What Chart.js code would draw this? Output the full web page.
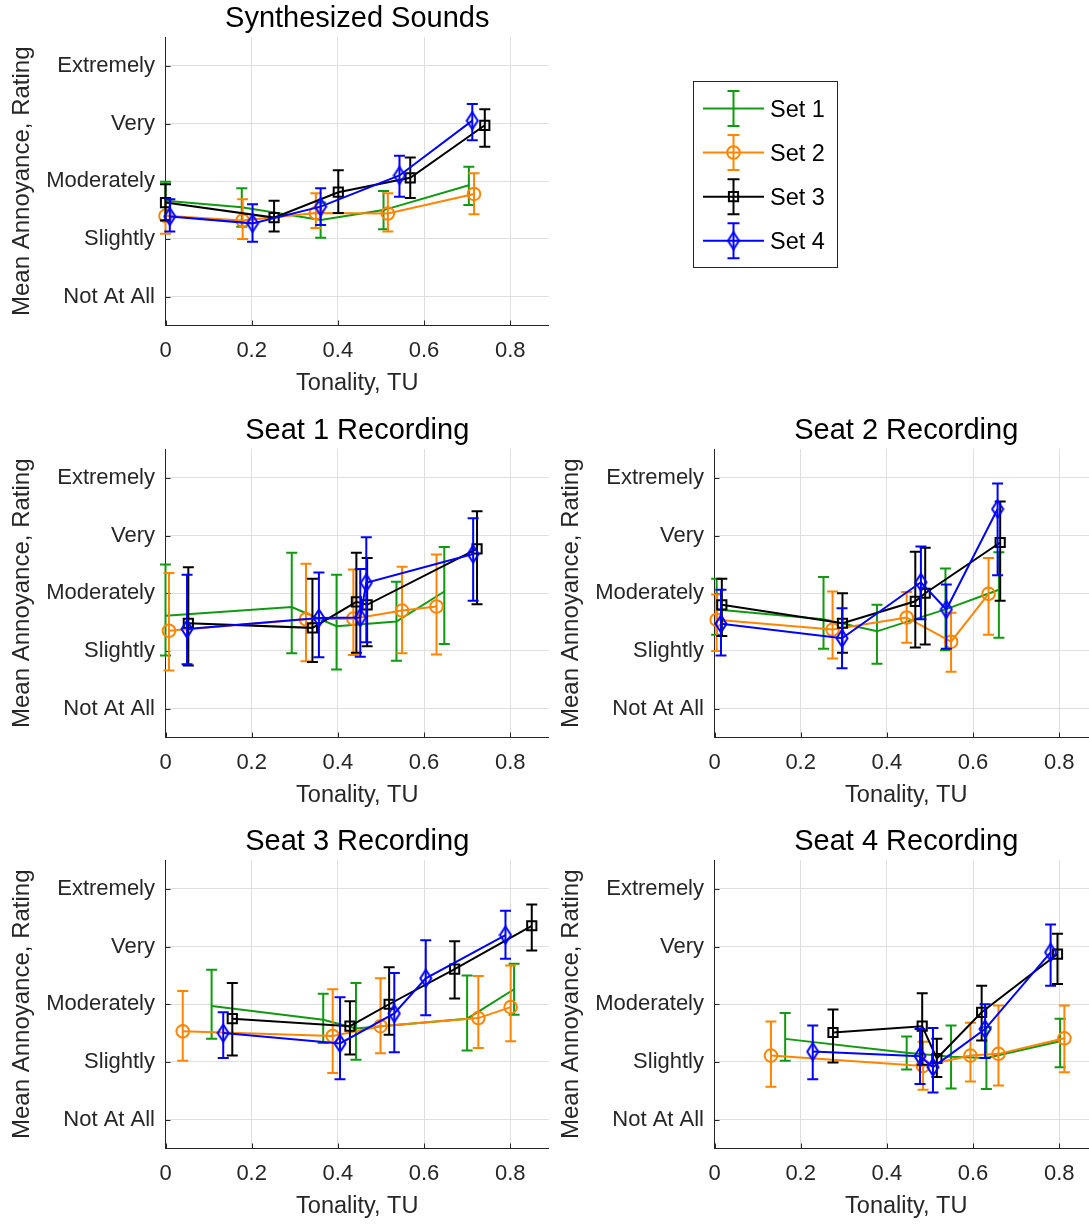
<!DOCTYPE html>
<html>
<head>
<meta charset="utf-8">
<script src="https://cdn.jsdelivr.net/npm/chart.js@4.4.1/dist/chart.umd.min.js"></script>
<style>
  html, body { margin: 0; padding: 0; background: #fff; overflow: hidden; width: 1089px; height: 1224px; }
  body { position: relative; font-family: 'Liberation Sans', Arial, sans-serif; }
  canvas.panel { position: absolute; }
  #legend { position: absolute; left: 693px; top: 81px; width: 145px; height: 187px; border: 1px solid #262626; box-sizing: border-box; background: #fff; }
  #legend canvas { position: absolute; left: 0; top: 0; }
  #legend span { position: absolute; left: 76px; font-size: 23.5px; line-height: 24px; color: #000; white-space: nowrap; }
</style>
</head>
<body>
<canvas class="panel" id="synth"></canvas>
<canvas class="panel" id="seat1"></canvas>
<canvas class="panel" id="seat2"></canvas>
<canvas class="panel" id="seat3"></canvas>
<canvas class="panel" id="seat4"></canvas>
<div id="legend"></div>
<script>
// ---------------- DATA ----------------
// one row per set (Set 1..Set 4): tonality x, mean rating y, lower / upper error bar ends
const SET_NAMES = ['Set 1', 'Set 2', 'Set 3', 'Set 4'];
const RATING_TICKS = [1, 2, 3, 4, 5];
const RATING_LABELS = ['Not At All', 'Slightly', 'Moderately', 'Very', 'Extremely'];
const TONALITY_TICKS = [0, 0.2, 0.4, 0.6, 0.8];

const SYNTH_X = [
  [0.000, 0.177, 0.360, 0.506, 0.704],
  [0.000, 0.179, 0.349, 0.516, 0.716],
  [0.000, 0.252, 0.401, 0.568, 0.741],
  [0.010, 0.202, 0.360, 0.543, 0.712]
];
const SYNTH_Y = [
  [2.66, 2.55, 2.33, 2.50, 2.93],
  [2.40, 2.32, 2.45, 2.44, 2.78],
  [2.63, 2.37, 2.81, 3.06, 3.97],
  [2.39, 2.27, 2.56, 3.10, 4.05]
];
const SYNTH_LOW = [
  [2.33, 2.21, 2.02, 2.17, 2.59],
  [2.09, 2.00, 2.19, 2.13, 2.43],
  [2.32, 2.13, 2.45, 2.71, 3.60],
  [2.13, 1.95, 2.24, 2.73, 3.71]
];
const SYNTH_HIGH = [
  [2.99, 2.88, 2.63, 2.83, 3.25],
  [2.71, 2.69, 2.79, 2.79, 3.14],
  [2.95, 2.66, 3.19, 3.41, 4.25],
  [2.69, 2.60, 2.88, 3.44, 4.34]
];

const SEAT1_X = [
  [0.000, 0.293, 0.397, 0.536, 0.647],
  [0.008, 0.326, 0.436, 0.549, 0.629],
  [0.053, 0.341, 0.443, 0.468, 0.723],
  [0.050, 0.356, 0.452, 0.466, 0.714]
];
const SEAT1_Y = [
  [2.61, 2.76, 2.43, 2.51, 3.03],
  [2.35, 2.55, 2.56, 2.70, 2.77],
  [2.48, 2.40, 2.85, 2.80, 3.77],
  [2.38, 2.57, 2.58, 3.18, 3.68]
];
const SEAT1_LOW = [
  [1.92, 1.96, 1.68, 1.83, 2.12],
  [1.66, 1.82, 1.93, 1.96, 1.94],
  [1.75, 1.81, 1.97, 2.08, 2.81],
  [1.77, 1.89, 1.90, 2.15, 2.87]
];
const SEAT1_HIGH = [
  [3.50, 3.70, 3.32, 3.20, 3.80],
  [3.35, 3.51, 3.41, 3.46, 3.67],
  [3.45, 3.25, 3.70, 3.61, 4.42],
  [3.32, 3.36, 3.42, 3.97, 4.30]
];

const SEAT2_X = [
  [0.005, 0.253, 0.377, 0.536, 0.660],
  [0.005, 0.274, 0.446, 0.549, 0.636],
  [0.017, 0.297, 0.466, 0.489, 0.663],
  [0.015, 0.296, 0.479, 0.538, 0.657]
];
const SEAT2_Y = [
  [2.72, 2.55, 2.34, 2.72, 3.06],
  [2.54, 2.37, 2.58, 2.16, 2.99],
  [2.80, 2.48, 2.86, 3.00, 3.88],
  [2.47, 2.22, 3.19, 2.72, 4.46]
];
const SEAT2_LOW = [
  [2.28, 2.04, 1.78, 2.01, 2.23],
  [2.00, 1.87, 2.14, 1.64, 2.28],
  [2.26, 1.97, 2.06, 2.11, 2.87],
  [1.92, 1.70, 2.55, 2.04, 3.31]
];
const SEAT2_HIGH = [
  [3.25, 3.28, 2.80, 3.43, 3.71],
  [2.98, 3.03, 3.02, 2.66, 3.61],
  [3.25, 3.00, 3.72, 3.79, 4.59],
  [3.06, 2.74, 3.81, 3.15, 4.90]
];

const SEAT3_X = [
  [0.107, 0.366, 0.442, 0.700, 0.809],
  [0.040, 0.388, 0.499, 0.726, 0.801],
  [0.155, 0.428, 0.519, 0.671, 0.850],
  [0.134, 0.405, 0.531, 0.604, 0.789]
];
const SEAT3_Y = [
  [2.97, 2.73, 2.58, 2.75, 3.26],
  [2.53, 2.45, 2.62, 2.76, 2.95],
  [2.75, 2.62, 3.00, 3.61, 4.36],
  [2.50, 2.32, 2.84, 3.45, 4.20]
];
const SEAT3_LOW = [
  [2.40, 2.33, 2.04, 2.20, 2.82],
  [2.02, 1.81, 2.15, 2.24, 2.36],
  [2.11, 2.13, 2.47, 3.10, 3.93],
  [2.07, 1.70, 2.17, 2.81, 3.79]
];
const SEAT3_HIGH = [
  [3.60, 3.18, 3.37, 3.50, 3.70],
  [3.23, 3.26, 3.45, 3.49, 3.67],
  [3.37, 3.05, 3.64, 4.09, 4.73],
  [2.86, 3.12, 3.54, 4.11, 4.62]
];

const SEAT4_X = [
  [0.164, 0.446, 0.549, 0.631, 0.802],
  [0.131, 0.484, 0.594, 0.659, 0.812],
  [0.275, 0.482, 0.516, 0.620, 0.796],
  [0.228, 0.477, 0.507, 0.628, 0.780]
];
const SEAT4_Y = [
  [2.40, 2.16, 2.09, 2.07, 2.36],
  [2.11, 1.93, 2.11, 2.14, 2.41],
  [2.51, 2.62, 2.06, 2.86, 3.87],
  [2.18, 2.10, 1.91, 2.57, 3.90]
];
const SEAT4_LOW = [
  [2.02, 1.87, 1.54, 1.53, 1.91],
  [1.57, 1.52, 1.66, 1.59, 1.82],
  [1.99, 1.95, 1.74, 2.37, 3.35],
  [1.70, 1.62, 1.47, 2.07, 3.32]
];
const SEAT4_HIGH = [
  [2.85, 2.44, 2.63, 2.60, 2.75],
  [2.70, 2.35, 2.68, 2.98, 2.98],
  [2.91, 3.19, 2.40, 3.32, 4.22],
  [2.63, 2.57, 2.59, 3.00, 4.38]
];

// ---------------- STYLE ----------------
const FONT = "'Liberation Sans', Arial, sans-serif";
const AXIS_COLOR = '#262626';
const GRID_COLOR = '#dfdfdf';
const SET_COLORS = ['#119911', '#ff8500', '#000000', '#0000ff'];
const LINE_W = 2;
const CAP = 5.5;            // half width of the error bar caps
const X_MAX = 0.89;

const CANVAS_W = 549;
const CANVAS_H = 405;
const Y_AXIS_W = 165.5;
const X_AXIS_H = 76.5;

// MATLAB-like diamond: taller than wide
function makeDiamond(color) {
  const c = document.createElement('canvas');
  c.width = 14; c.height = 20;
  const g = c.getContext('2d');
  g.strokeStyle = color;
  g.lineWidth = LINE_W;
  g.beginPath();
  g.moveTo(7, 1.5); g.lineTo(12.5, 10); g.lineTo(7, 18.5); g.lineTo(1.5, 10);
  g.closePath();
  g.stroke();
  return c;
}
const DIAMOND = makeDiamond(SET_COLORS[3]);

const MARKERS = [
  { pointStyle: 'circle', pointRadius: 0 },
  { pointStyle: 'circle', pointRadius: 6.3 },
  { pointStyle: 'rect',   pointRadius: 6.5 },
  { pointStyle: DIAMOND,  pointRadius: 6 }
];

// ---------------- PLUGINS ----------------
// vertical error bars, drawn just before each dataset so markers sit on top
const errorBars = {
  id: 'errorBars',
  beforeDatasetDraw(chart, args) {
    const ds = chart.data.datasets[args.index];
    if (!ds.errLow) return;
    const { ctx, scales: { x, y } } = chart;
    ctx.save();
    ctx.strokeStyle = ds.borderColor;
    ctx.lineWidth = ds.borderWidth;
    ctx.beginPath();
    ds.data.forEach((p, i) => {
      const px = x.getPixelForValue(p.x);
      const lo = y.getPixelForValue(ds.errLow[i]);
      const hi = y.getPixelForValue(ds.errHigh[i]);
      ctx.moveTo(px, lo); ctx.lineTo(px, hi);
      ctx.moveTo(px - CAP, lo); ctx.lineTo(px + CAP, lo);
      ctx.moveTo(px - CAP, hi); ctx.lineTo(px + CAP, hi);
    });
    ctx.stroke();
    ctx.restore();
  }
};

// short tick marks pointing into the axes
const inwardTicks = {
  id: 'inwardTicks',
  beforeDatasetsDraw(chart) {
    const { ctx, chartArea: a, scales: { x, y } } = chart;
    ctx.save();
    ctx.strokeStyle = AXIS_COLOR;
    ctx.lineWidth = 1;
    ctx.beginPath();
    x.ticks.forEach(t => {
      const px = Math.round(x.getPixelForValue(t.value)) + 0.5;
      ctx.moveTo(px, a.bottom); ctx.lineTo(px, a.bottom - 5);
    });
    y.ticks.forEach(t => {
      const py = Math.round(y.getPixelForValue(t.value)) + 0.5;
      ctx.moveTo(a.left, py); ctx.lineTo(a.left + 5, py);
    });
    ctx.stroke();
    ctx.restore();
  }
};

// ---------------- PANELS ----------------
const PANELS = [
  { id: 'synth', title: 'Synthesized Sounds', left: 0,   top: -3,  xs: SYNTH_X, ys: SYNTH_Y, lo: SYNTH_LOW, hi: SYNTH_HIGH },
  { id: 'seat1', title: 'Seat 1 Recording',   left: 0,   top: 409, xs: SEAT1_X, ys: SEAT1_Y, lo: SEAT1_LOW, hi: SEAT1_HIGH },
  { id: 'seat2', title: 'Seat 2 Recording',   left: 549, top: 409, xs: SEAT2_X, ys: SEAT2_Y, lo: SEAT2_LOW, hi: SEAT2_HIGH },
  { id: 'seat3', title: 'Seat 3 Recording',   left: 0,   top: 820, xs: SEAT3_X, ys: SEAT3_Y, lo: SEAT3_LOW, hi: SEAT3_HIGH },
  { id: 'seat4', title: 'Seat 4 Recording',   left: 549, top: 820, xs: SEAT4_X, ys: SEAT4_Y, lo: SEAT4_LOW, hi: SEAT4_HIGH }
];

function makePanel(p) {
  const canvas = document.getElementById(p.id);
  canvas.width = CANVAS_W;
  canvas.height = CANVAS_H;
  canvas.style.left = p.left + 'px';
  canvas.style.top = p.top + 'px';

  const datasets = SET_NAMES.map((name, s) => ({
    label: name,
    data: p.xs[s].map((x, i) => ({ x, y: p.ys[s][i] })),
    errLow: p.lo[s],
    errHigh: p.hi[s],
    borderColor: SET_COLORS[s],
    backgroundColor: SET_COLORS[s],
    borderWidth: LINE_W,
    pointBorderColor: SET_COLORS[s],
    pointBackgroundColor: 'rgba(0,0,0,0)',
    pointBorderWidth: LINE_W,
    pointStyle: MARKERS[s].pointStyle,
    pointRadius: MARKERS[s].pointRadius,
    tension: 0,
    fill: false,
    clip: false,
    order: 4 - s
  }));

  return new Chart(canvas.getContext('2d'), {
    type: 'line',
    data: { datasets },
    plugins: [errorBars, inwardTicks],
    options: {
      responsive: false,
      animation: false,
      events: [],
      layout: { padding: 0, autoPadding: false },
      plugins: {
        legend: { display: false },
        tooltip: { enabled: false },
        title: {
          display: true,
          text: p.title,
          fullSize: false,
          color: '#000',
          font: { family: FONT, size: 29, weight: 'normal', lineHeight: 1.2 },
          padding: { top: 4.3, bottom: 0.9 }
        }
      },
      scales: {
        x: {
          type: 'linear',
          min: 0,
          max: X_MAX,
          afterBuildTicks: axis => { axis.ticks = TONALITY_TICKS.map(v => ({ value: v })); },
          afterFit: scale => {
            scale.height = X_AXIS_H;
            scale.paddingLeft = 0;
            scale.paddingRight = 0;
          },
          ticks: {
            autoSkip: false, maxRotation: 0, padding: 12,
            color: AXIS_COLOR,
            font: { family: FONT, size: 22, lineHeight: 1.2 },
            callback: v => String(v)
          },
          grid: { color: GRID_COLOR, lineWidth: 1, drawTicks: false },
          border: { display: true, color: AXIS_COLOR, width: 1 },
          title: {
            display: true, text: 'Tonality, TU', color: AXIS_COLOR,
            font: { family: FONT, size: 23.5, lineHeight: 1.2 },
            padding: { top: 0, bottom: 4 }
          }
        },
        y: {
          type: 'linear',
          min: 0.5,
          max: 5.5,
          afterBuildTicks: axis => { axis.ticks = RATING_TICKS.map(v => ({ value: v })); },
          afterFit: scale => { scale.width = Y_AXIS_W; },
          ticks: {
            padding: 10.5,
            color: AXIS_COLOR,
            font: { family: FONT, size: 22, lineHeight: 1.2 },
            callback: v => RATING_LABELS[RATING_TICKS.indexOf(v)] || ''
          },
          grid: { color: GRID_COLOR, lineWidth: 1, drawTicks: false },
          border: { display: true, color: AXIS_COLOR, width: 1 },
          title: {
            display: true, text: 'Mean Annoyance, Rating', color: AXIS_COLOR,
            font: { family: FONT, size: 24, lineHeight: 1.2 },
            padding: { top: 8.1, bottom: 0 }
          }
        }
      }
    }
  });
}

PANELS.forEach(makePanel);

// ---------------- LEGEND ----------------
(function buildLegend() {
  const box = document.getElementById('legend');
  const W = 143, H = 185;
  const c = document.createElement('canvas');
  c.width = W; c.height = H;
  box.appendChild(c);
  const g = c.getContext('2d');
  const ROW_Y = [26.5, 70.5, 114.7, 158.7];
  const X0 = 9, X1 = 70, XM = 39.5, HALF = 17.5;

  SET_NAMES.forEach((name, s) => {
    const cy = ROW_Y[s];
    g.strokeStyle = SET_COLORS[s];
    g.lineWidth = LINE_W;
    g.beginPath();
    g.moveTo(X0, cy); g.lineTo(X1, cy);
    g.moveTo(XM, cy - HALF); g.lineTo(XM, cy + HALF);
    g.moveTo(XM - CAP - 0.5, cy - HALF); g.lineTo(XM + CAP + 0.5, cy - HALF);
    g.moveTo(XM - CAP - 0.5, cy + HALF); g.lineTo(XM + CAP + 0.5, cy + HALF);
    g.stroke();
    g.beginPath();
    if (s === 1) {
      g.arc(XM, cy, 6.3, 0, Math.PI * 2);
      g.stroke();
    } else if (s === 2) {
      const h = 6.5 * Math.SQRT1_2;
      g.rect(XM - h, cy - h, 2 * h, 2 * h);
      g.stroke();
    } else if (s === 3) {
      g.drawImage(DIAMOND, XM - DIAMOND.width / 2, cy - DIAMOND.height / 2);
    }

    const t = document.createElement('span');
    t.textContent = name;
    t.style.top = (cy - 12) + 'px';
    box.appendChild(t);
  });
})();
</script>
</body>
</html>
